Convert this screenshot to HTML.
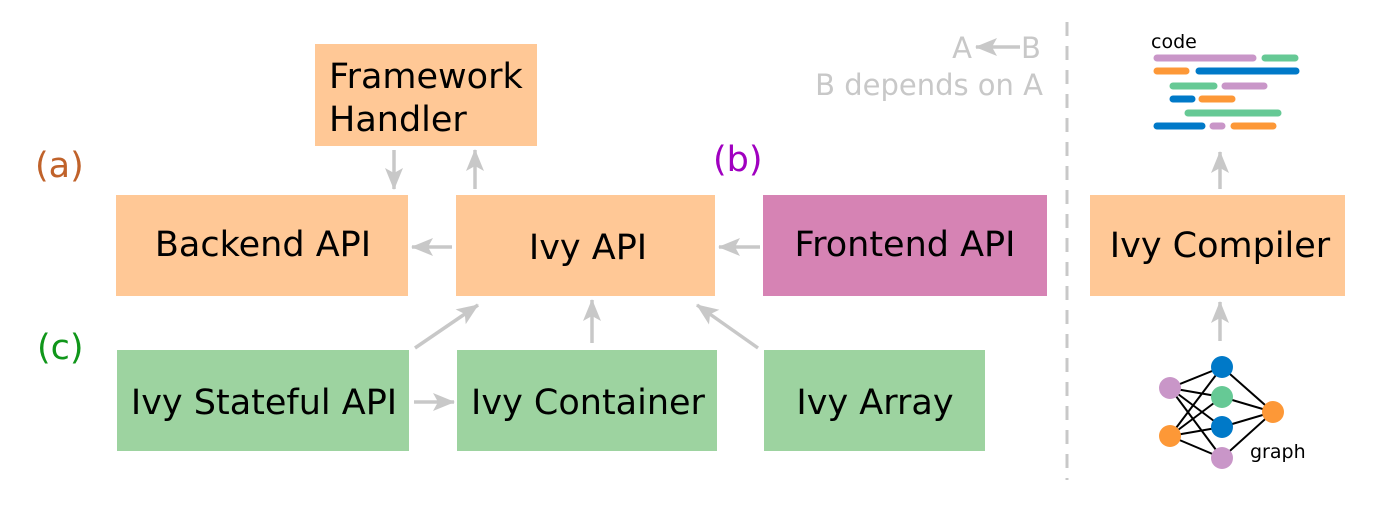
<!DOCTYPE html>
<html><head><meta charset="utf-8"><style>
html,body{margin:0;padding:0;background:#fff;width:1400px;height:510px;overflow:hidden}
text{font-family:"DejaVu Sans","Liberation Sans",sans-serif}
</style></head><body>
<svg width="1400" height="510" viewBox="0 0 1400 510" xmlns="http://www.w3.org/2000/svg">
<defs>
<marker id="ah" markerUnits="userSpaceOnUse" markerWidth="24" markerHeight="24" viewBox="0 0 24 24" refX="21" refY="12" orient="auto">
<path d="M0,3 L22,12 L0,21 L5,12 Z" fill="#c8c8c8"/>
</marker>
</defs>
<rect x="315" y="44" width="222" height="102" fill="#ffc896"/>
<rect x="116" y="195" width="292" height="101" fill="#ffc896"/>
<rect x="456" y="195" width="259" height="101" fill="#ffc896"/>
<rect x="763" y="195" width="284" height="101" fill="#d683b4"/>
<rect x="1090" y="195" width="255" height="101" fill="#ffc896"/>
<rect x="117" y="350" width="292" height="101" fill="#9dd3a0"/>
<rect x="457" y="350" width="260" height="101" fill="#9dd3a0"/>
<rect x="764" y="350" width="221" height="101" fill="#9dd3a0"/>
<g font-size="35" fill="#000">
<text x="329" y="88">Framework</text>
<text x="329" y="131">Handler</text>
<text x="263" y="256" text-anchor="middle">Backend API</text>
<text x="588" y="259" text-anchor="middle">Ivy API</text>
<text x="905" y="256" text-anchor="middle">Frontend API</text>
<text x="1220" y="257" text-anchor="middle">Ivy Compiler</text>
<text x="264" y="414" text-anchor="middle">Ivy Stateful API</text>
<text x="588" y="414" text-anchor="middle">Ivy Container</text>
<text x="875" y="414" text-anchor="middle">Ivy Array</text>
</g>
<text x="35" y="177" font-size="35" fill="#c0622a">(a)</text>
<text x="713" y="171" font-size="35" fill="#a000c0">(b)</text>
<text x="37" y="359" font-size="35" fill="#10961a">(c)</text>
<g stroke="#c8c8c8" stroke-width="3.5" marker-end="url(#ah)" fill="none">
<line x1="394" y1="150" x2="394" y2="189"/>
<line x1="475" y1="189" x2="475" y2="150"/>
<line x1="452" y1="247" x2="412" y2="247"/>
<line x1="760" y1="247" x2="719" y2="247"/>
<line x1="415" y1="348" x2="478" y2="305"/>
<line x1="592" y1="343" x2="592" y2="300"/>
<line x1="758" y1="348" x2="697" y2="305"/>
<line x1="414" y1="402" x2="454" y2="402"/>
<line x1="1220" y1="189" x2="1220" y2="152"/>
<line x1="1220" y1="341" x2="1220" y2="302"/>
<line x1="1020" y1="47" x2="976" y2="47"/>
</g>
<text x="972" y="58" font-size="29" fill="#c8c8c8" text-anchor="end">A</text>
<text x="1021" y="58" font-size="29" fill="#c8c8c8">B</text>
<text x="1043" y="95" font-size="29" fill="#c8c8c8" text-anchor="end">B depends on A</text>
<line x1="1067" y1="22" x2="1067" y2="480" stroke="#c8c8c8" stroke-width="3" stroke-dasharray="14,10"/>
<text x="1151" y="48" font-size="19" fill="#000">code</text>
<g stroke-width="7" stroke-linecap="round">
<line x1="1157" y1="58" x2="1253" y2="58" stroke="#c996c8"/>
<line x1="1265" y1="58" x2="1295" y2="58" stroke="#66c995"/>
<line x1="1157" y1="71" x2="1186" y2="71" stroke="#fd9837"/>
<line x1="1199" y1="71" x2="1296" y2="71" stroke="#0079c8"/>
<line x1="1173" y1="86" x2="1214" y2="86" stroke="#66c995"/>
<line x1="1225" y1="86" x2="1264" y2="86" stroke="#c996c8"/>
<line x1="1173" y1="99" x2="1192" y2="99" stroke="#0079c8"/>
<line x1="1202" y1="99" x2="1232" y2="99" stroke="#fd9837"/>
<line x1="1188" y1="113" x2="1278" y2="113" stroke="#66c995"/>
<line x1="1157" y1="126" x2="1202" y2="126" stroke="#0079c8"/>
<line x1="1213" y1="126" x2="1222" y2="126" stroke="#c996c8"/>
<line x1="1234" y1="126" x2="1273" y2="126" stroke="#fd9837"/>
</g>
<g stroke="#000" stroke-width="2">
<line x1="1170" y1="388" x2="1222" y2="367"/><line x1="1170" y1="388" x2="1222" y2="397"/>
<line x1="1170" y1="388" x2="1222" y2="427"/><line x1="1170" y1="388" x2="1222" y2="458"/>
<line x1="1170" y1="436" x2="1222" y2="367"/><line x1="1170" y1="436" x2="1222" y2="397"/>
<line x1="1170" y1="436" x2="1222" y2="427"/><line x1="1170" y1="436" x2="1222" y2="458"/>
<line x1="1273" y1="412" x2="1222" y2="367"/><line x1="1273" y1="412" x2="1222" y2="397"/>
<line x1="1273" y1="412" x2="1222" y2="427"/><line x1="1273" y1="412" x2="1222" y2="458"/>
</g>
<circle cx="1170" cy="388" r="11" fill="#c996c8"/>
<circle cx="1170" cy="436" r="11" fill="#fd9837"/>
<circle cx="1222" cy="367" r="11" fill="#0079c8"/>
<circle cx="1222" cy="397" r="11" fill="#66c995"/>
<circle cx="1222" cy="427" r="11" fill="#0079c8"/>
<circle cx="1222" cy="458" r="11" fill="#c996c8"/>
<circle cx="1273" cy="412" r="11" fill="#fd9837"/>
<text x="1250" y="458" font-size="19" fill="#000">graph</text>
</svg>
</body></html>
